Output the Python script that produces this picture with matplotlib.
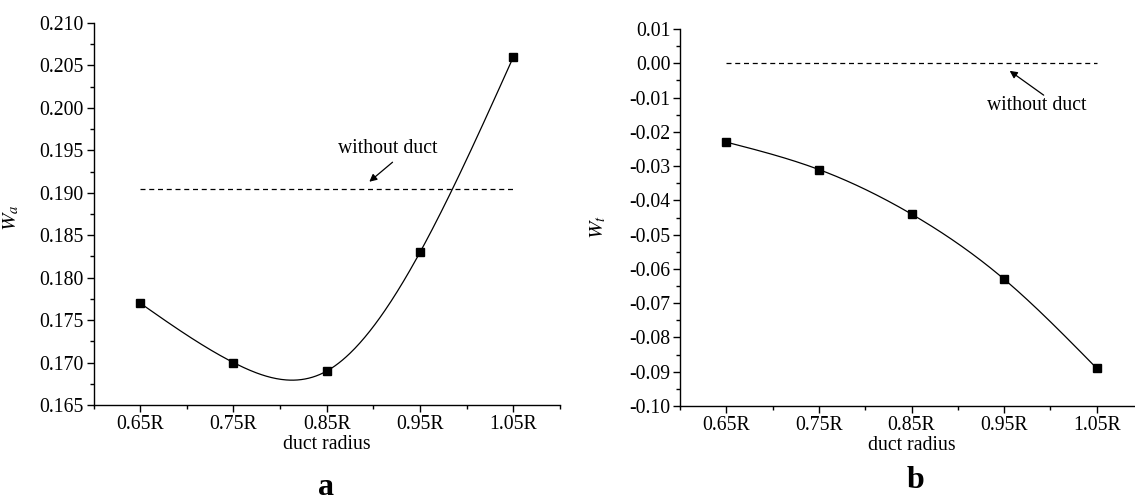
import numpy as np
import matplotlib
matplotlib.use("Agg")
import matplotlib.pyplot as plt
from matplotlib.ticker import MultipleLocator, FormatStrFormatter

plt.rcParams['font.family'] = ['Liberation Serif', 'DejaVu Serif']
plt.rcParams['mathtext.fontset'] = 'stix'
plt.rcParams['axes.unicode_minus'] = False

# ---- data ----
radius = [0.65, 0.75, 0.85, 0.95, 1.05]
radius_labels = ['0.65R', '0.75R', '0.85R', '0.95R', '1.05R']
wa_values = [0.177, 0.170, 0.169, 0.183, 0.206]
wa_without_duct = 0.1905
wt_values = [-0.023, -0.031, -0.044, -0.063, -0.089]
wt_without_duct = 0.0


def natural_spline(x, y, n=300):
    x = np.asarray(x, float)
    y = np.asarray(y, float)
    k = len(x)
    h = np.diff(x)
    A = np.zeros((k, k))
    b = np.zeros(k)
    A[0, 0] = A[-1, -1] = 1
    for i in range(1, k - 1):
        A[i, i - 1] = h[i - 1]
        A[i, i] = 2 * (h[i - 1] + h[i])
        A[i, i + 1] = h[i]
        b[i] = 3 * ((y[i + 1] - y[i]) / h[i] - (y[i] - y[i - 1]) / h[i - 1])
    c = np.linalg.solve(A, b)
    xs = np.linspace(x[0], x[-1], n)
    ys = np.empty_like(xs)
    for j, xv in enumerate(xs):
        i = min(np.searchsorted(x, xv, side='right') - 1, k - 2)
        dx = xv - x[i]
        bi = (y[i + 1] - y[i]) / h[i] - h[i] * (2 * c[i] + c[i + 1]) / 3
        di = (c[i + 1] - c[i]) / (3 * h[i])
        ys[j] = y[i] + bi * dx + c[i] * dx ** 2 + di * dx ** 3
    return xs, ys


fig = plt.figure(figsize=(11.35, 5.01), dpi=100)
ax1 = fig.add_axes([0.0824, 0.1916, 0.4110, 0.7625])
ax2 = fig.add_axes([0.5991, 0.1896, 0.4080, 0.7525])

FS = 14.2


def style(ax):
    for s in ['top', 'right']:
        ax.spines[s].set_visible(False)
    for s in ['left', 'bottom']:
        ax.spines[s].set_linewidth(1.0)
    ax.set_xlim(0.6, 1.1)
    ax.set_xticks(radius)
    ax.set_xticklabels(radius_labels)
    ax.xaxis.set_minor_locator(MultipleLocator(0.05))
    ax.tick_params(which='major', direction='out', length=5, width=1.0,
                   labelsize=FS, pad=2)
    ax.tick_params(which='minor', direction='out', length=3, width=1.0)
    ax.set_xlabel('duct radius', fontsize=FS, labelpad=1)


def arrow(ax, tail, head):
    ax.annotate('', xy=head, xytext=tail,
                arrowprops=dict(arrowstyle='-|>', color='black', lw=0.9,
                                shrinkA=0, shrinkB=0, mutation_scale=11))


# ---- panel a ----
xs, ys = natural_spline(radius, wa_values)
ax1.plot(xs, ys, color='black', lw=0.9)
ax1.plot(radius, wa_values, 's', color='black', ms=6)
ax1.plot([radius[0], radius[-1]], [wa_without_duct] * 2, color='black',
         lw=0.9, ls=(0, (4, 3)))
style(ax1)
ax1.set_ylim(0.165, 0.210)
ax1.yaxis.set_major_locator(MultipleLocator(0.005))
ax1.yaxis.set_minor_locator(MultipleLocator(0.0025))
ax1.yaxis.set_major_formatter(FormatStrFormatter('%.3f'))
ax1.set_ylabel(r'$W_a$', fontsize=15)
ax1.yaxis.set_label_coords(-0.155, 0.49)
ax1.text(0.915, 0.1952, 'without duct', fontsize=FS, ha='center', va='center')
arrow(ax1, (0.9205, 0.1936), (0.8956, 0.1913))

# ---- panel b ----
xs, ys = natural_spline(radius, wt_values)
ax2.plot(xs, ys, color='black', lw=0.9)
ax2.plot(radius, wt_values, 's', color='black', ms=6)
ax2.plot([radius[0], radius[-1]], [wt_without_duct] * 2, color='black',
         lw=0.9, ls=(0, (4, 3)))
style(ax2)
ax2.set_ylim(-0.10, 0.01)
ax2.yaxis.set_major_locator(MultipleLocator(0.01))
ax2.yaxis.set_minor_locator(MultipleLocator(0.005))
ax2.yaxis.set_major_formatter(FormatStrFormatter('%.2f'))
ax2.set_ylabel(r'$W_t$', fontsize=15)
ax2.yaxis.set_label_coords(-0.155, 0.475)
ax2.text(0.985, -0.0122, 'without duct', fontsize=FS, ha='center', va='center')
arrow(ax2, (0.9927, -0.0093), (0.956, -0.0022))

fig.text(0.287, 0.012, 'a', fontsize=23, fontweight='bold', ha='center', va='baseline')
fig.text(0.807, 0.026, 'b', fontsize=23, fontweight='bold', ha='center', va='baseline')

fig.savefig('out.png', dpi=100)
